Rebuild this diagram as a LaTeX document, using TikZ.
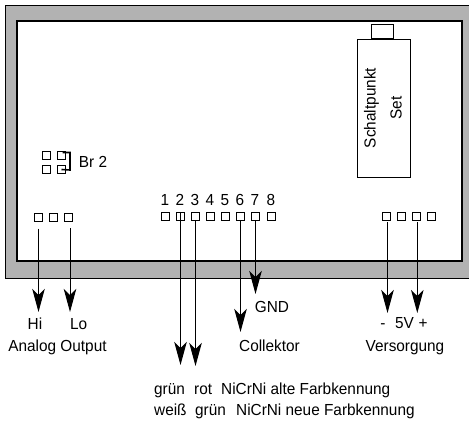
\documentclass[tikz,border=0pt]{standalone}
\usepackage{fontspec}
\setmainfont[FakeStretch=0.96]{Liberation Sans}
\usetikzlibrary{arrows.meta}
\tikzset{
  pin/.style={draw=black,line width=1pt,fill=white,minimum size=8pt,inner sep=0pt,outer sep=0pt},
  lab/.style={inner sep=0pt,font=\fontsize{16}{18}\selectfont,anchor=base},
  wire/.style={line width=1pt,-{Stealth[length=23pt,width=12.5pt,inset=6pt]}}
}
\begin{document}
\begin{tikzpicture}[x=1pt,y=-1pt]
\useasboundingbox (0,0) rectangle (469,421);
\fill[white] (0,0) rectangle (469,421);
\node[draw=black,line width=1pt,fill=black!30,minimum width=470pt,minimum height=273pt,anchor=north west,inner sep=0pt] (frame) at (4.5,4.5) {};
\node[draw=black,line width=2.2pt,fill=white,minimum width=445pt,minimum height=240pt,anchor=north west,inner sep=0pt] (panel) at (15.5,20) {};
\node[draw=black,line width=.8pt,fill=white,minimum width=22.5pt,minimum height=14pt,anchor=north west,inner sep=0pt] (knob) at (370.5,24) {};
\node[draw=black,line width=.8pt,fill=white,minimum width=52.5pt,minimum height=138.5pt,anchor=north west,inner sep=0pt] (set) at (357,38.5) {};
\node[rotate=90,align=center,inner sep=0pt,font=\fontsize{16}{26}\selectfont] (settext) at (383,108) {Schaltpunkt\\Set};
% Br 2
\node[pin] (ba) at (46.5,155.5) {};
\node[pin] (bb) at (46.5,169.5) {};
\node[pin] (bc) at (61.5,155.5) {};
\node[pin] (bd) at (61.5,169.5) {};
\draw[line width=1.6pt] (bc.north) ++(1,1) -| (70,170) -- (bd.center);
\node[lab] (br) at (93,167.7) {Br 2};
% left pins
\node[pin] (l1) at (38.5,217.5) {};
\node[pin] (l2) at (53.5,217.5) {};
\node[pin] (l3) at (68.5,217.5) {};
% numbered pins
\foreach \n/\x in {1/165,2/180,3/195,4/210,5/225,6/240,7/255,8/271}{
  \node[pin] (p\n) at (\x+.5,216.5) {};
  \node[lab] (t\n) at (\x,205) {\n};
}
% right pins
\foreach \n/\x in {1/386.5,2/401.5,3/416.5,4/431.5}{
  \node[pin] (r\n) at (\x,216.5) {};
}
% wire ends
\coordinate (hs) at (38.5,228.7);
\coordinate (he) at (38.5,312);
\coordinate (ls) at (70,228);
\coordinate (le) at (70,312);
\coordinate (ms) at (387.5,222);
\coordinate (ps) at (417.3,222);
\coordinate (e2) at (180.5,365);
\coordinate (e3) at (195.5,366);
\coordinate (e6) at (240.5,332);
\coordinate (e7) at (255.5,294);
\coordinate (em) at (387.5,313);
\coordinate (ep) at (417.3,313);
\draw[wire] (hs) -- (he);
\draw[wire] (ls) -- (le);
\draw[wire] (p2.north) -- (e2);
\draw[wire] (p3.south) -- (e3);
\draw[wire] (p6.south) -- (e6);
\draw[wire] (p7.south) -- (e7);
\draw[wire] (ms) -- (em);
\draw[wire] (ps) -- (ep);
% labels
\node[lab] (hi) at (35,329) {Hi};
\node[lab] (lo) at (78.7,329) {Lo};
\node[lab] (ao) at (57.5,351.7) {Analog Output};
\node[lab] (gnd) at (272,312.7) {GND};
\node[lab] (col) at (269.5,351.7) {Collektor};
\node[lab] (mi) at (383,328) {-};
\node[lab] (fv) at (404.5,328) {5V};
\node[lab] (pl) at (423,328) {+};
\node[lab] (ver) at (405,351.7) {Versorgung};
\node[lab,anchor=base west] (z1a) at (154,394) {grün};
\node[lab,anchor=base west] (z1b) at (194,394) {rot};
\node[lab,anchor=base west] (z1c) at (221,394) {NiCrNi alte Farbkennung};
\node[lab,anchor=base west] (z2a) at (154,415) {weiß};
\node[lab,anchor=base west] (z2b) at (195,415) {grün};
\node[lab,anchor=base west] (z2c) at (236,415) {NiCrNi neue Farbkennung};
\end{tikzpicture}
\end{document}
